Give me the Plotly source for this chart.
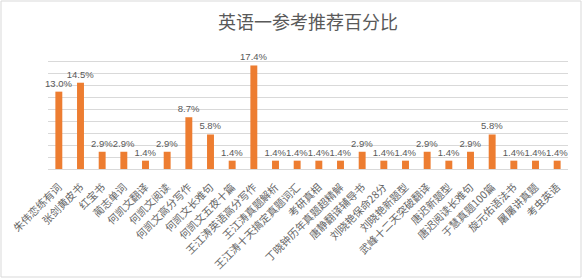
import plotly.graph_objects as go

categories = [
    "朱伟恋练有词", "张剑黄皮书", "红宝书", "蔺志单词", "何凯文翻译", "何凯文阅读",
    "何凯文高分写作", "何凯文长难句", "何凯文五夜十篇", "王江涛英语高分写作",
    "王江涛真题解析", "王江涛十天搞定真题词汇", "考研真相", "丁晓钟历年真题超精解",
    "唐静翻译辅导书", "刘晓艳保命28分", "刘晓艳新题型", "武峰十二天突破翻译",
    "唐迟新题型", "唐迟阅读长难句", "于慧真题100篇", "旋元佑语法书", "屠屠讲真题", "考虫英语",
]
percentages = [
    13.0, 14.5, 2.9, 2.9, 1.4, 2.9, 8.7, 5.8, 1.4, 17.4,
    1.4, 1.4, 1.4, 1.4, 2.9, 1.4, 1.4, 2.9, 1.4, 2.9, 5.8, 1.4, 1.4, 1.4,
]
title_text = "英语一参考推荐百分比"

W, H = 582, 278
ml, mr, mt, mb = 48, 14, 50, 109

fig = go.Figure(
    go.Bar(
        x=categories,
        y=percentages,
        marker=dict(color="#ED7D31", line=dict(width=0)),
        text=[f"{v:.1f}%" for v in percentages],
        textposition="outside",
        textfont=dict(family="Liberation Sans, Arial, sans-serif", size=9.5, color="#595959"),
        constraintext="none",
        cliponaxis=False,
        hoverinfo="x+y",
    )
)

pw = W - ml - mr
ph = H - mt - mb
fig.update_layout(
    width=W,
    height=H,
    margin=dict(l=ml, r=mr, t=mt, b=mb, pad=0),
    paper_bgcolor="white",
    plot_bgcolor="white",
    bargap=0.68,
    showlegend=False,
    title=dict(
        text=title_text,
        x=0.5,
        xref="paper",
        xanchor="center",
        y=1 - 23 / H,
        yanchor="middle",
        font=dict(family="Noto Sans CJK SC, sans-serif", size=18, color="#595959"),
    ),
    xaxis=dict(
        type="category",
        range=[-0.5, len(categories) - 0.5],
        tickangle=-45,
        tickfont=dict(family="Noto Sans CJK SC, sans-serif", size=10.5, color="#666666"),
        showline=True,
        linecolor="#D9D9D9",
        linewidth=1,
        ticks="outside",
        ticklen=7,
        tickcolor="rgba(0,0,0,0)",
        showgrid=False,
        automargin=False,
    ),
    yaxis=dict(
        range=[0, 20],
        dtick=2,
        showticklabels=False,
        showgrid=True,
        gridcolor="#D9D9D9",
        gridwidth=1,
        zeroline=False,
        showline=False,
        ticks="",
        automargin=False,
    ),
    shapes=[
        dict(
            type="rect",
            xref="paper",
            yref="paper",
            x0=(1 - ml) / pw,
            x1=(W - 1 - ml) / pw,
            y0=-(mb - 1) / ph,
            y1=1 + (mt - 1) / ph,
            line=dict(color="#D9D9D9", width=1),
            fillcolor="rgba(0,0,0,0)",
            layer="below",
        )
    ],
)

fig.write_html("out.html")
